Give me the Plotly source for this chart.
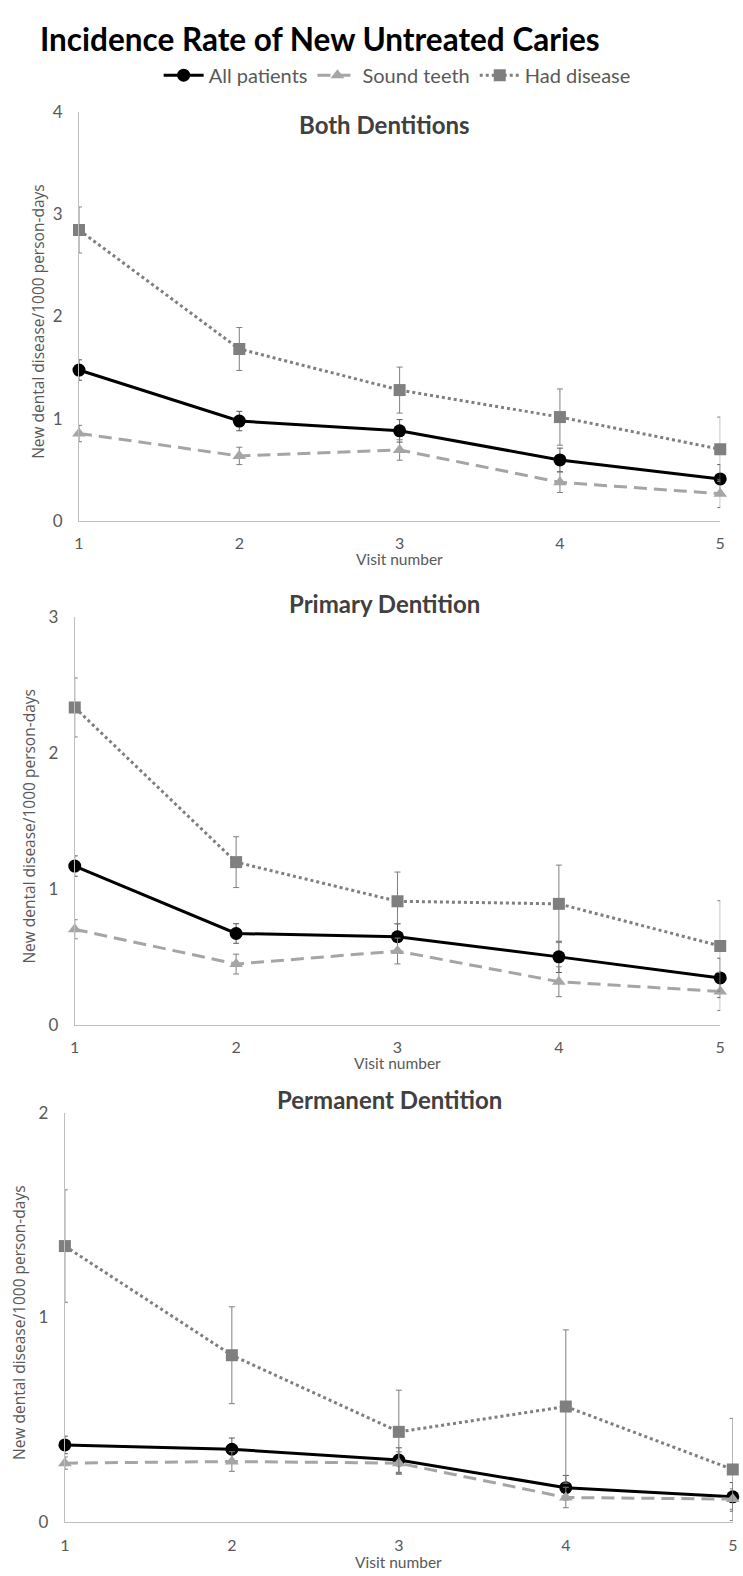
import plotly.graph_objects as go

W, H = 743, 1576

visits = [1, 2, 3, 4, 5]
tick_labels = ["1", "2", "3", "4", "5"]
series_names = ["All patients", "Sound teeth", "Had disease"]
panel_titles = ["Both Dentitions", "Primary Dentition", "Permanent Dentition"]

# Both dentitions
both_all = [1.475, 0.976, 0.88, 0.596, 0.41]
both_all_err = [0.10, 0.095, 0.11, 0.115, 0.14]
both_sound = [0.854, 0.635, 0.693, 0.377, 0.265]
both_sound_err = [0.08, 0.085, 0.10, 0.10, 0.135]
both_had = [2.845, 1.681, 1.279, 1.015, 0.70]
both_had_err = [0.225, 0.21, 0.225, 0.275, 0.315]

# Primary dentition
prim_all = [1.168, 0.672, 0.648, 0.50, 0.345]
prim_all_err = [0.075, 0.072, 0.095, 0.115, 0.145]
prim_sound = [0.703, 0.447, 0.543, 0.317, 0.245]
prim_sound_err = [0.07, 0.073, 0.095, 0.11, 0.14]
prim_had = [2.335, 1.197, 0.909, 0.89, 0.58]
prim_had_err_up = [0.217, 0.187, 0.215, 0.285, 0.333]
prim_had_err_dn = [0.217, 0.187, 0.165, 0.285, 0.333]

# Permanent dentition
perm_all = [0.375, 0.354, 0.301, 0.166, 0.121]
perm_all_err = [0.043, 0.055, 0.06, 0.06, 0.07]
perm_sound = [0.286, 0.294, 0.286, 0.118, 0.110]
perm_sound_err = [0.03, 0.048, 0.055, 0.05, 0.05]
perm_had = [1.348, 0.814, 0.439, 0.563, 0.255]
perm_had_err = [0.275, 0.237, 0.204, 0.375, 0.25]

y_max = [4, 3, 2]

CAL = "Lato, Carlito, Calibri, Open Sans, sans-serif"
SEG = "Open Sans, Noto Sans, DejaVu Sans, sans-serif"
LABEL_GRAY = "#595959"
AXIS_GRAY = "#BFBFBF"

panels = [
    (75.0, 725.0, 102.3, 516.7),
    (70.7, 725.0, 614.3, 1027.5),
    (60.7, 737.7, 1116.7, 1531.0),
]


def px_x(p):
    return p / W


def px_y(p):
    return 1 - p / H


fig = go.Figure()

data = [
    (both_all, both_all_err, both_all_err, both_sound, both_sound_err, both_had, both_had_err, both_had_err),
    (prim_all, prim_all_err, prim_all_err, prim_sound, prim_sound_err, prim_had, prim_had_err_up, prim_had_err_dn),
    (perm_all, perm_all_err, perm_all_err, perm_sound, perm_sound_err, perm_had, perm_had_err, perm_had_err),
]

for i, (a, ae, ae2, s, se, h, heu, hed) in enumerate(data):
    xa = "x" if i == 0 else f"x{i+1}"
    ya = "y" if i == 0 else f"y{i+1}"
    show = i == 0
    fig.add_trace(go.Scatter(
        x=visits, y=a, name=series_names[0], xaxis=xa, yaxis=ya,
        mode="lines+markers", showlegend=show, legendrank=1,
        line=dict(color="#000000", width=3),
        marker=dict(symbol="circle", size=13, color="#000000"),
        error_y=dict(type="data", array=ae, arrayminus=ae2, color="#595959", thickness=1, width=3),
        cliponaxis=False,
    ))
    fig.add_trace(go.Scatter(
        x=visits, y=s, name=series_names[1], xaxis=xa, yaxis=ya,
        mode="lines+markers", showlegend=show, legendrank=2,
        line=dict(color="#A5A5A5", width=3, dash="13px,7px"),
        marker=dict(symbol="triangle-up", size=12, color="#A5A5A5"),
        error_y=dict(type="data", array=se, color="#7F7F7F", thickness=1, width=3),
        cliponaxis=False,
    ))
    fig.add_trace(go.Scatter(
        x=visits, y=h, name=series_names[2], xaxis=xa, yaxis=ya,
        mode="lines+markers", showlegend=show, legendrank=3,
        line=dict(color="#7F7F7F", width=3, dash="3px,3px"),
        marker=dict(symbol="square", size=12, color="#7F7F7F"),
        error_y=dict(type="data", array=heu, arrayminus=hed, color="#7F7F7F", thickness=1, width=3),
        cliponaxis=False,
    ))

layout = dict(
    width=W, height=H,
    margin=dict(l=0, r=0, t=0, b=0),
    paper_bgcolor="white", plot_bgcolor="white",
    showlegend=True,
    legend=dict(
        orientation="h", x=0.535, xanchor="center", y=px_y(65), yanchor="middle",
        font=dict(family=CAL, size=20, color=LABEL_GRAY),
        itemwidth=40, tracegroupgap=0, bgcolor="rgba(0,0,0,0)",
    ),
)

annotations = [
    dict(text="<b>Incidence Rate of New Untreated Caries</b>", xref="paper", yref="paper",
         x=px_x(33), y=px_y(28), xanchor="left", yanchor="middle", showarrow=False,
         font=dict(family=CAL, size=31.5, color="#000000")),
]

sub_title_y = [115, 600, 1103]
sub_title_x = [385, 385, 390]
ytitle_x = [34, 24, 14]
visit_y = [555, 1066, 1572]
x_standoff = [8, 8, 9]

for i, (xl, xr, yt, yb) in enumerate(panels):
    xk = "xaxis" if i == 0 else f"xaxis{i+1}"
    yk = "yaxis" if i == 0 else f"yaxis{i+1}"
    ya_ref = "y" if i == 0 else f"y{i+1}"
    xa_ref = "x" if i == 0 else f"x{i+1}"
    layout[xk] = dict(
        domain=[px_x(xl), px_x(xr)], range=[1, 5], anchor=ya_ref,
        tickmode="array", tickvals=visits, ticktext=tick_labels,
        showgrid=False, zeroline=False, showline=True, linecolor=AXIS_GRAY, linewidth=1,
        ticks="", ticklabelstandoff=x_standoff[i],
        tickfont=dict(family=CAL, size=16, color=LABEL_GRAY),
    )
    layout[yk] = dict(
        domain=[px_y(yb), px_y(yt)], range=[0, y_max[i]], anchor=xa_ref,
        tickmode="linear", tick0=0, dtick=1,
        showgrid=False, zeroline=False, showline=True, linecolor=AXIS_GRAY, linewidth=1,
        ticks="", ticklabelstandoff=12,
        tickfont=dict(family=CAL, size=17, color=LABEL_GRAY),
    )
    annotations.append(dict(
        text=f"<b>{panel_titles[i]}</b>", xref="paper", yref="paper",
        x=px_x(sub_title_x[i]), y=px_y(sub_title_y[i]), xanchor="center", yanchor="middle",
        showarrow=False, font=dict(family=CAL, size=24, color="#404040"),
    ))
    annotations.append(dict(
        text="New dental disease/1000 person-days", xref="paper", yref="paper",
        x=px_x(ytitle_x[i]), y=px_y((yt + yb) / 2 + 5), xanchor="center", yanchor="middle",
        textangle=-90, showarrow=False,
        font=dict(family=SEG, size=15.5, color=LABEL_GRAY),
    ))
    annotations.append(dict(
        text="Visit number", xref="paper", yref="paper",
        x=px_x((xl + xr) / 2), y=px_y(visit_y[i]), xanchor="center", yanchor="middle",
        showarrow=False, font=dict(family=CAL, size=15.5, color=LABEL_GRAY),
    ))

layout["annotations"] = annotations
fig.update_layout(**layout)

fig.write_html("out.html")
